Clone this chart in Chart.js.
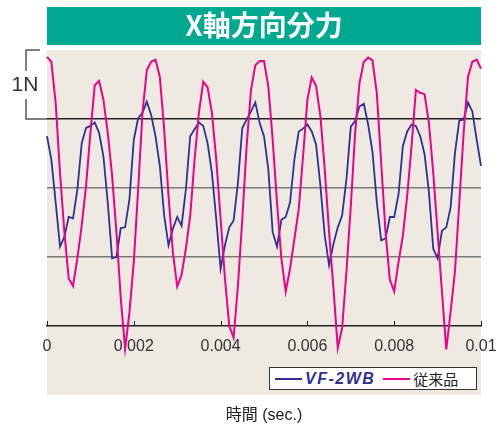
<!DOCTYPE html>
<html>
<head>
<meta charset="utf-8">
<script src="https://cdn.jsdelivr.net/npm/chart.js@4.4.1/dist/chart.umd.min.js"></script>
<style>
  body { margin: 0; background: #fff; }
  #wrap { position: relative; width: 496px; height: 429px; }
  #legend {
    position: absolute; left: 269px; top: 367px; width: 208px; height: 23px;
    box-sizing: border-box; background: #fff; border: 1px solid #333;
    display: flex; align-items: center; padding-left: 5px;
  }
  #legend .ln { display: inline-block; width: 27px; height: 2px; margin-right: 3px; }
  #legend .lb { white-space: nowrap; }
</style>
</head>
<body>
<div id="wrap">
  <canvas id="forceChart" width="496" height="429"></canvas>
  <div id="legend"></div>
</div>
<script>
// sampling step of the recorded waveform (sec.)
var sampleStep = 0.0001;

var seriesNames = ["VF-2WB", "従来品"];

// X axis force, 1 grid = 1N
var vf2wb = [
  2.75, 2.41, 1.79, 1.15, 1.29, 1.58, 1.56, 1.98, 2.65, 2.87,
  2.90, 2.95, 2.80, 2.46, 1.79, 0.98, 1.00, 1.42, 1.43, 1.84,
  2.70, 3.01, 3.09, 3.25, 3.06, 2.75, 2.32, 1.60, 1.17, 1.41,
  1.58, 1.45, 1.98, 2.75, 2.85, 2.95, 2.90, 2.65, 2.22, 1.55,
  0.83, 1.17, 1.43, 1.53, 2.08, 2.87, 2.99, 3.11, 3.24, 2.94,
  2.75, 2.27, 1.36, 1.15, 1.54, 1.58, 1.79, 2.41, 2.82, 2.86,
  2.92, 2.82, 2.63, 2.03, 1.31, 0.88, 1.19, 1.43, 1.60, 2.13,
  2.89, 2.97, 3.18, 3.22, 2.92, 2.52, 1.79, 1.24, 1.27, 1.58,
  1.58, 1.91, 2.61, 2.82, 2.92, 2.90, 2.75, 2.49, 1.94, 1.12,
  0.98, 1.38, 1.43, 1.72, 2.51, 2.98, 2.99, 3.24, 3.11, 2.70,
  2.32
];

var conventional = [
  3.90, 3.83, 3.23, 2.22, 1.36, 0.69, 0.58, 0.98, 1.46, 2.03,
  2.80, 3.49, 3.55, 3.28, 2.80, 2.18, 1.36, 0.40, -0.33, 0.20,
  0.93, 1.98, 3.09, 3.71, 3.83, 3.86, 3.61, 2.85, 1.89, 1.07,
  0.57, 0.74, 1.12, 1.60, 2.41, 3.09, 3.54, 3.46, 3.09, 2.41,
  1.55, 0.69, 0.00, -0.17, 0.59, 1.55, 2.61, 3.42, 3.78, 3.84,
  3.84, 3.47, 2.70, 1.79, 0.98, 0.50, 0.83, 1.26, 1.69, 2.46,
  3.28, 3.60, 3.48, 3.04, 2.27, 1.36, 0.55, -0.32, -0.03, 0.79,
  1.74, 2.80, 3.52, 3.83, 3.89, 3.85, 3.37, 2.37, 1.36, 0.67,
  0.50, 0.93, 1.31, 1.89, 2.61, 3.42, 3.38, 3.36, 2.94, 2.22,
  1.36, 0.50, -0.34, 0.21, 0.79, 1.79, 2.80, 3.61, 3.83, 3.86,
  3.73
];

var xTickLabels = ["0", "0.002", "0.004", "0.006", "0.008", "0.01"];

var times = vf2wb.map(function (v, i) { return +(i * sampleStep).toFixed(4); });

var colors = ["#2e3192", "#ec008c"];

// background panels, bracket "1N" and small inner ticks
var decor = {
  id: "decor",
  beforeDraw: function (chart) {
    var c = chart.ctx, a = chart.chartArea;
    c.save();
    c.fillStyle = "#00a98f";
    c.fillRect(a.left, 7, a.right - a.left, 38);
    c.fillStyle = "#eeeae1";
    c.fillRect(a.left, a.top, a.right - a.left, 395 - a.top);
    c.restore();
  },
  afterDraw: function (chart) {
    var c = chart.ctx, a = chart.chartArea;
    var ys = chart.scales.y, xs = chart.scales.x;
    var yTop = ys.getPixelForValue(4), yOne = ys.getPixelForValue(3);
    c.save();
    c.strokeStyle = "#555";
    c.lineWidth = 1.5;
    c.beginPath();
    c.moveTo(40, yTop); c.lineTo(26, yTop); c.lineTo(26, yTop + 21);
    c.moveTo(26, yOne - 20); c.lineTo(26, yOne); c.lineTo(a.left, yOne);
    c.stroke();
    c.fillStyle = "#333";
    c.font = "21px 'Liberation Sans', Arial";
    c.textAlign = "center";
    c.textBaseline = "middle";
    c.fillText("1N", 25, (yTop + yOne) / 2 + 1);
    c.strokeStyle = "#222";
    c.lineWidth = 1;
    c.beginPath();
    xs.ticks.forEach(function (t) {
      var px = Math.round(xs.getPixelForValue(t.value)) + 0.5;
      c.moveTo(px, a.bottom); c.lineTo(px, a.bottom - 5);
    });
    c.stroke();
    c.restore();
  }
};

var chart = new Chart(document.getElementById("forceChart"), {
  type: "line",
  data: {
    labels: times,
    datasets: [
      {
        label: seriesNames[0],
        data: vf2wb,
        borderColor: colors[0],
        borderWidth: 1.8,
        pointRadius: 0,
        tension: 0,
        clip: false,
        order: 2
      },
      {
        label: seriesNames[1],
        data: conventional,
        borderColor: colors[1],
        borderWidth: 2,
        pointRadius: 0,
        tension: 0,
        clip: false,
        order: 1
      }
    ]
  },
  options: {
    responsive: false,
    animation: false,
    devicePixelRatio: 1,
    layout: { padding: { left: 0, right: 15, top: 0, bottom: 0 } },
    plugins: {
      legend: { display: false },
      tooltip: { enabled: false },
      title: {
        display: true,
        text: "X軸方向分力",
        color: "#fff",
        fullSize: false,
        font: { family: "'Noto Sans CJK JP', sans-serif", size: 28, weight: "bold", lineHeight: "28px" },
        padding: { top: 11, bottom: 11 }
      }
    },
    scales: {
      x: {
        type: "linear",
        min: 0,
        max: 0.01,
        grid: { display: false, drawTicks: false },
        border: { display: true, color: "#222", width: 1.5 },
        ticks: {
          stepSize: 0.002,
          padding: 11,
          color: "#333",
          maxRotation: 0,
          autoSkip: false,
          font: { family: "'Liberation Sans', Arial", size: 16 },
          callback: function (v, i) { return xTickLabels[i]; }
        },
        title: {
          display: true,
          text: "時間 (sec.)",
          color: "#222",
          font: { family: "'Liberation Sans', 'Noto Sans CJK JP'", size: 16 },
          padding: { top: 4, bottom: 4 }
        },
        afterFit: function (s) { s.height = 103; s.paddingLeft = 0; s.paddingRight = 0; }
      },
      y: {
        min: 0,
        max: 4,
        border: { display: false },
        ticks: { display: false, stepSize: 1 },
        grid: {
          drawTicks: false,
          lineWidth: 1.5,
          color: function (ctx) {
            var v = ctx.tick.value;
            if (v === 3) return "#222";
            if (v === 1 || v === 2) return "#7a7a7a";
            return "rgba(0,0,0,0)";
          }
        },
        afterFit: function (s) { s.width = 47; }
      }
    }
  },
  plugins: [decor]
});

// legend built from the datasets
var legend = document.getElementById("legend");
chart.data.datasets.forEach(function (ds, i) {
  var ln = document.createElement("span");
  ln.className = "ln";
  ln.style.background = ds.borderColor;
  var lb = document.createElement("span");
  lb.className = "lb";
  lb.textContent = ds.label;
  if (i === 0) {
    lb.style.cssText = "font:italic bold 16px 'Liberation Sans',Arial;color:" + ds.borderColor + ";letter-spacing:1.5px;margin-right:8px;";
  } else {
    lb.style.cssText = "font:15px 'Noto Sans CJK JP',sans-serif;color:#222;";
  }
  legend.appendChild(ln);
  legend.appendChild(lb);
});
</script>
</body>
</html>
